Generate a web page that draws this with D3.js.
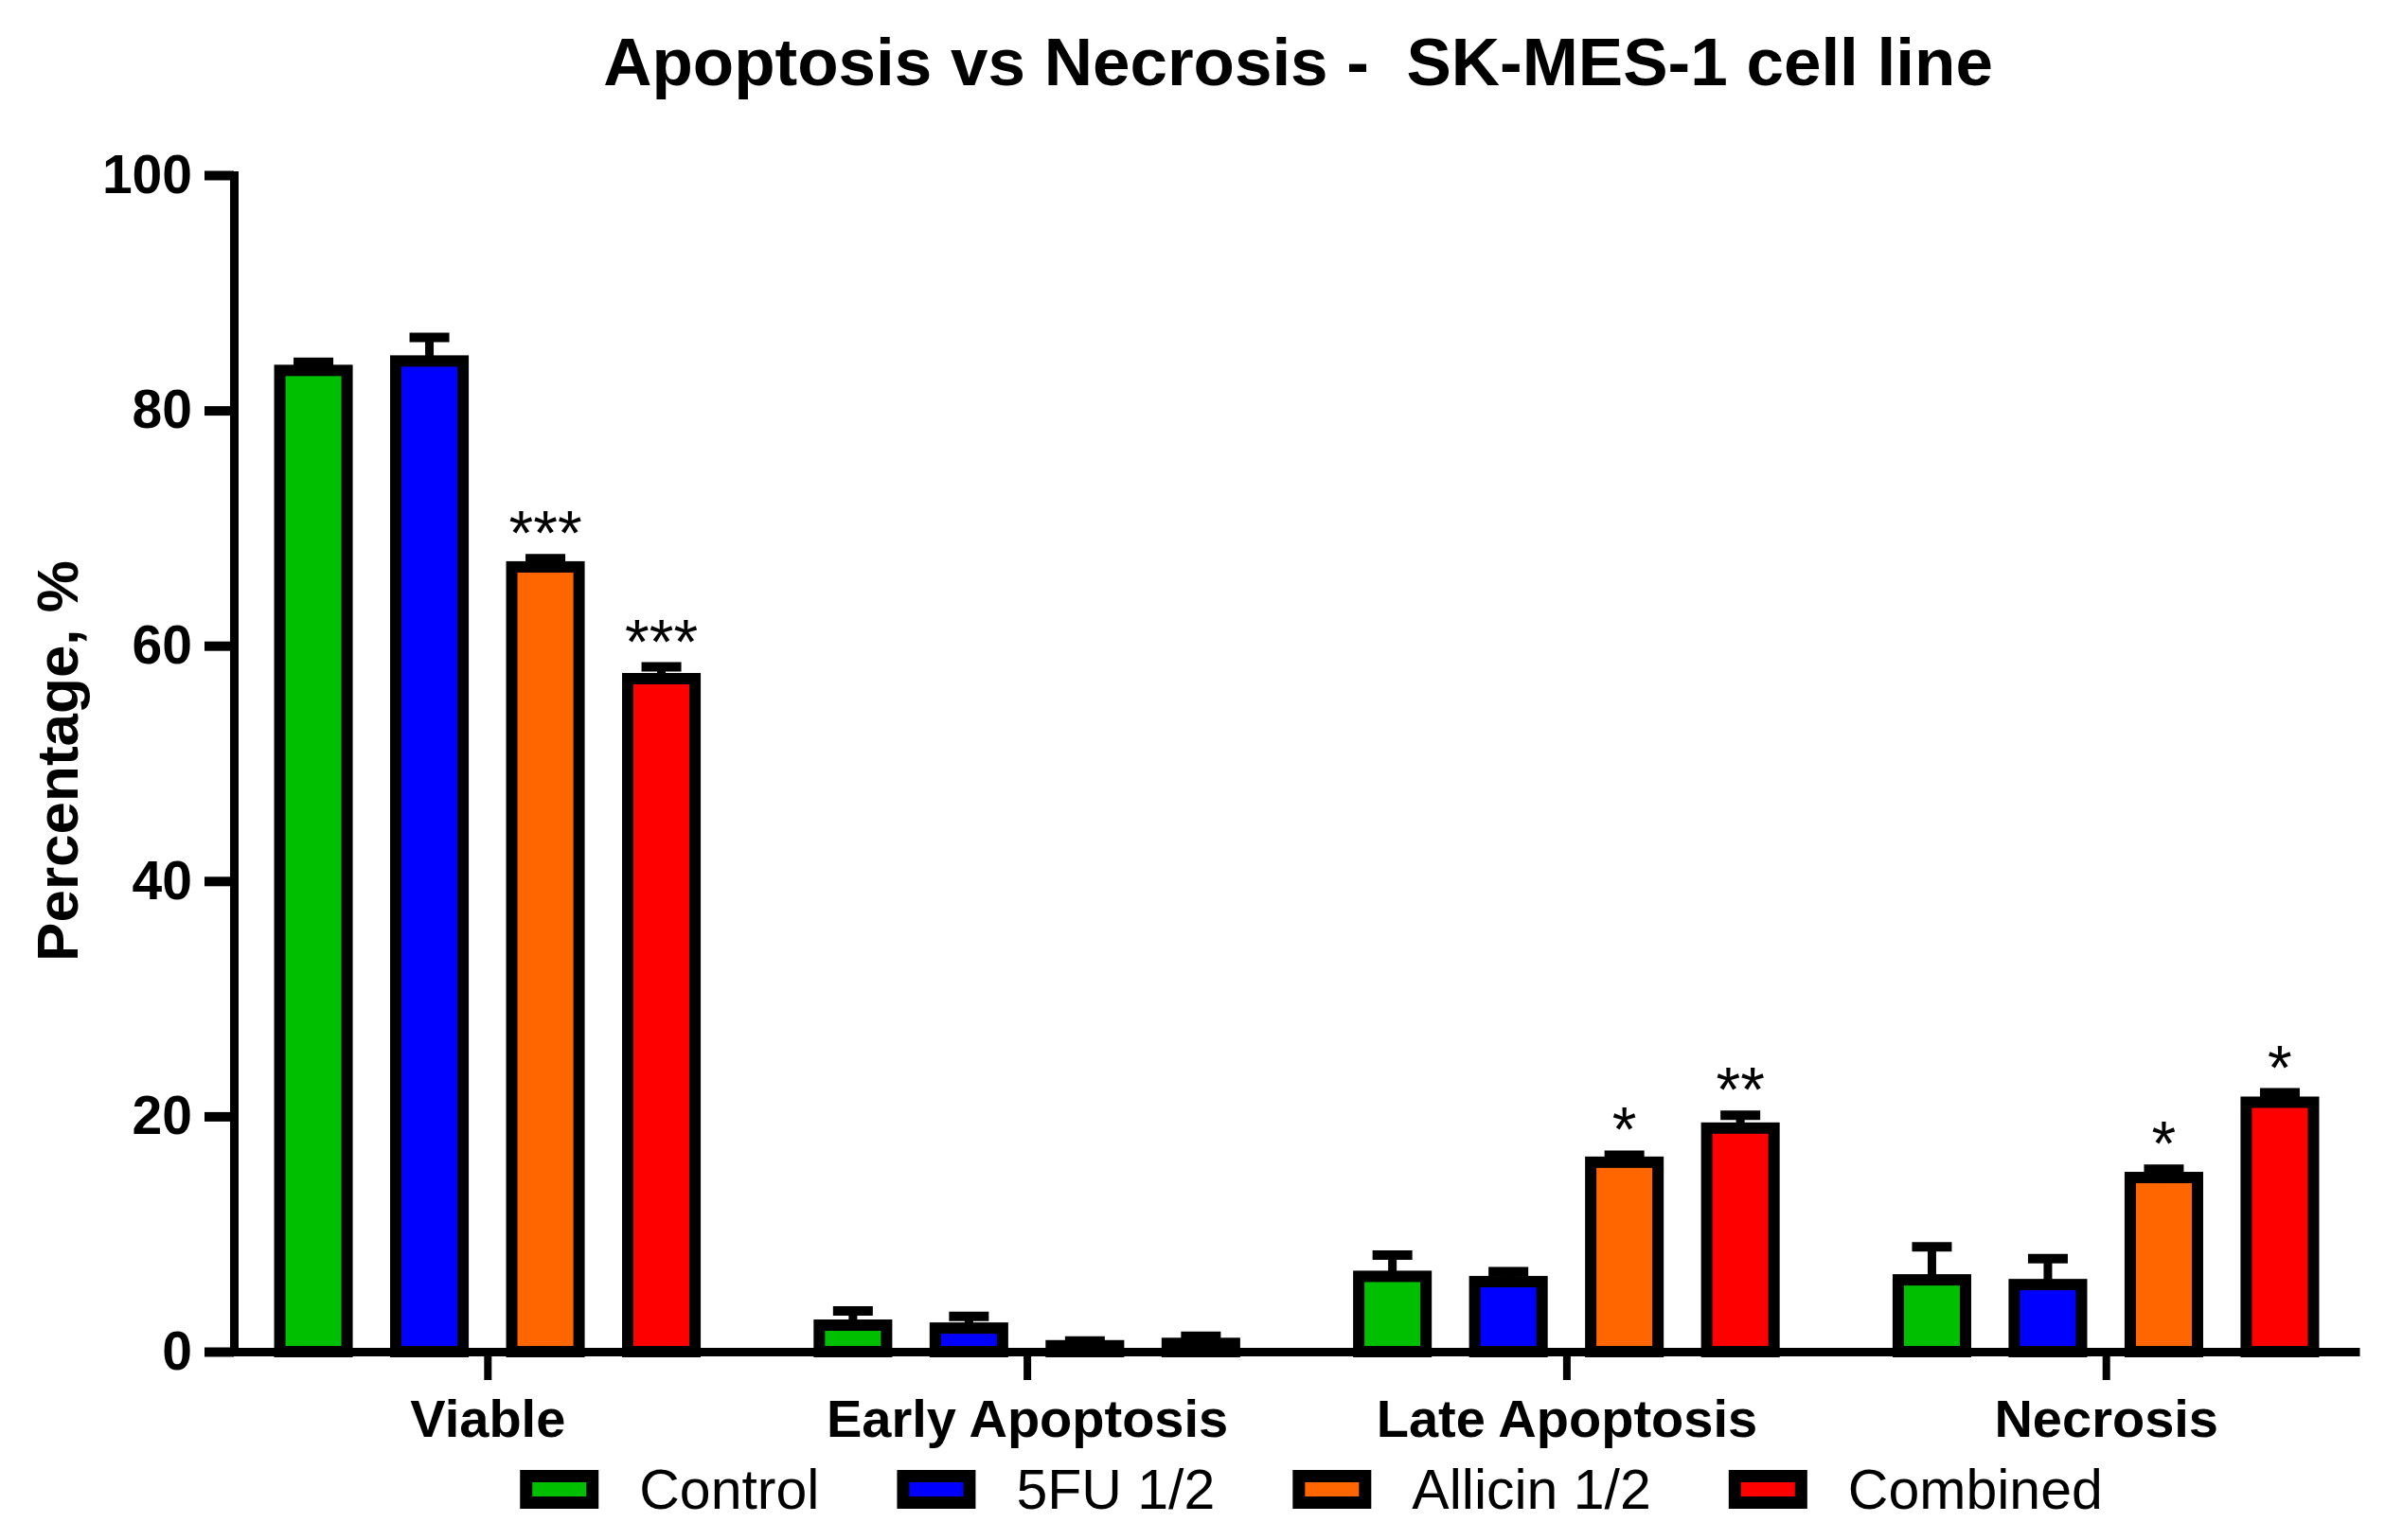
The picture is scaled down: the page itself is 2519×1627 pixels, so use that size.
<!DOCTYPE html>
<html>
<head>
<meta charset="utf-8" />
<title>Apoptosis vs Necrosis</title>
<style>
html, body {
    margin: 0px;
    padding: 0px;
    background: #fff;
}
svg text {
    font-family: "Liberation Sans", Arial, sans-serif;
    fill: #000;
}
.axis path, .axis line {
    stroke: #000;
}
</style>
</head>
<body>
<div id="chart"></div>

<script src="https://d3js.org/d3.v7.min.js"></script>
<script>
// values
var categories = ["Viable", "Early Apoptosis", "Late Apoptosis", "Necrosis"];
var seriesNames = ["Control", "5FU 1/2", "Allicin 1/2", "Combined"];
var seriesColors = ["#00bf00", "#0000ff", "#ff6600", "#ff0000"];

var controlMean  = [83.4, 2.25, 6.4, 6.1];
var controlErr   = [0.7, 1.2, 1.8, 2.8];
var fuMean       = [84.2, 2.0, 5.95, 5.7];
var fuErr        = [2.0, 1.0, 0.85, 2.2];
var allicinMean  = [66.7, 0.5, 16.1, 14.8];
var allicinErr   = [0.7, 0.4, 0.6, 0.7];
var combinedMean = [57.2, 0.7, 19.0, 21.2];
var combinedErr  = [1.0, 0.6, 1.1, 0.8];

var allicinSig   = ["***", "", "*", "*"];
var combinedSig  = ["***", "", "**", "*"];

var yTicks = [0, 20, 40, 60, 80, 100];

!(function(){
    "use strict"

    var W = 2519, H = 1627;

    var means = [controlMean, fuMean, allicinMean, combinedMean];
    var errs  = [controlErr, fuErr, allicinErr, combinedErr];
    var sigs  = [null, null, allicinSig, combinedSig];

    var rows = [];
    seriesNames.forEach(function(s, si){
        categories.forEach(function(c, ci){
            rows.push({
                cat: c, series: s, si: si,
                v: means[si][ci], e: errs[si][ci],
                sig: sigs[si] ? sigs[si][ci] : ""
            });
        });
    });

    var svg = d3.select("#chart").append("svg")
        .attr("width", W)
        .attr("height", H);

    var y = d3.scaleLinear().domain([0, 100]).range([1428, 185]);

    var x = d3.scalePoint().domain(categories)
        .range([247, 2492])
        .padding(0.47);

    var sub = d3.scaleBand().domain(seriesNames)
        .range([-245, 245])
        .paddingInner(0.42)
        .paddingOuter(0.21);

    function cx(d) { return x(d.cat) + sub(d.series) + sub.bandwidth() / 2; }

    // title
    svg.append("text")
        .attr("x", 1371)
        .attr("y", 90)
        .attr("text-anchor", "middle")
        .attr("font-size", 71)
        .attr("font-weight", "bold")
        .style("white-space", "pre")
        .text("Apoptosis vs Necrosis -  SK-MES-1 cell line");

    // y label
    svg.append("text")
        .attr("transform", "translate(82,804) rotate(-90)")
        .attr("text-anchor", "middle")
        .attr("font-size", 62)
        .attr("font-weight", "bold")
        .text("Percentage, %");

    // error bars (upper only), behind bars
    var eb = svg.append("g").selectAll("g")
        .data(rows)
        .enter()
        .append("g");

    eb.append("line")
        .attr("x1", cx).attr("x2", cx)
        .attr("y1", function(d){ return y(d.v); })
        .attr("y2", function(d){ return y(d.v + d.e); })
        .attr("stroke", "#000")
        .attr("stroke-width", 9);

    eb.append("line")
        .attr("x1", function(d){ return cx(d) - 21; })
        .attr("x2", function(d){ return cx(d) + 21; })
        .attr("y1", function(d){ return y(d.v + d.e); })
        .attr("y2", function(d){ return y(d.v + d.e); })
        .attr("stroke", "#000")
        .attr("stroke-width", 10);

    // bars
    svg.append("g").selectAll("rect")
        .data(rows)
        .enter()
        .append("rect")
        .attr("x", function(d){ return x(d.cat) + sub(d.series); })
        .attr("width", sub.bandwidth())
        .attr("y", function(d){ return y(d.v); })
        .attr("height", function(d){ return y(0) - y(d.v); })
        .attr("fill", function(d){ return seriesColors[d.si]; })
        .attr("stroke", "#000")
        .attr("stroke-width", 12);

    // significance stars
    svg.append("g").selectAll("text")
        .data(rows.filter(function(d){ return d.sig; }))
        .enter()
        .append("text")
        .attr("x", cx)
        .attr("y", function(d){ return y(d.v + d.e) - 4; })
        .attr("text-anchor", "middle")
        .attr("font-size", 66)
        .text(function(d){ return d.sig; });

    // y axis
    var yAxis = svg.append("g")
        .attr("class", "axis")
        .attr("transform", "translate(247,0)")
        .call(d3.axisLeft(y).tickValues(yTicks).tickSize(31).tickSizeOuter(0).tickPadding(13));

    yAxis.select(".domain")
        .attr("stroke-width", 9)
        .attr("stroke-linecap", "square");
    yAxis.selectAll(".tick line").attr("stroke-width", 10);
    yAxis.selectAll(".tick text")
        .attr("font-size", 57)
        .attr("font-weight", "bold")
        .attr("font-family", null)
        .attr("fill", "#000");

    // x axis
    var xAxis = svg.append("g")
        .attr("class", "axis")
        .attr("transform", "translate(0," + y(0) + ")")
        .call(d3.axisBottom(x).tickSize(30).tickSizeOuter(0));

    xAxis.select(".domain").attr("stroke-width", 9);
    xAxis.selectAll(".tick line").attr("stroke-width", 8);
    xAxis.selectAll(".tick text")
        .attr("y", 90)
        .attr("dy", null)
        .attr("font-size", 56)
        .attr("font-weight", "bold")
        .attr("font-family", null)
        .attr("fill", "#000");
    xAxis.attr("font-family", null);
    yAxis.attr("font-family", null);

    // legend
    var legend = svg.append("g");
    var lx = 0;
    seriesNames.forEach(function(s, i){
        var g = legend.append("g").attr("transform", "translate(" + lx + ",0)");
        g.append("rect")
            .attr("x", 6.5).attr("y", 1559.5)
            .attr("width", 70).attr("height", 28)
            .attr("fill", seriesColors[i])
            .attr("stroke", "#000")
            .attr("stroke-width", 13);
        var t = g.append("text")
            .attr("x", 126)
            .attr("y", 1594)
            .attr("font-size", 59)
            .text(s);
        lx += 126 + t.node().getComputedTextLength() + 82;
    });
    var lw = lx - 82;
    legend.attr("transform", "translate(" + (1385 - lw / 2) + ",0)");

}());
</script>
</body>
</html>
